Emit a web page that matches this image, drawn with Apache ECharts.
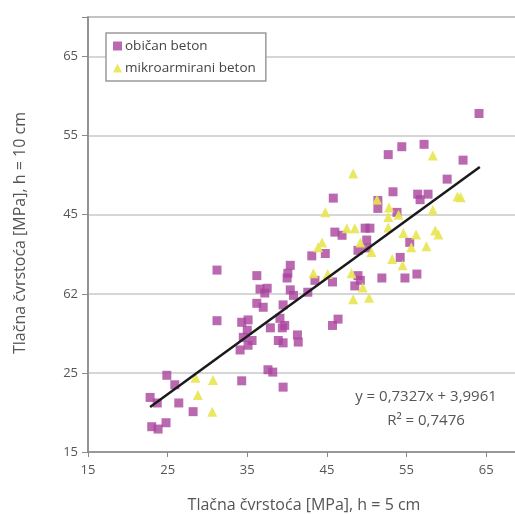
<!DOCTYPE html>
<html>
<head>
<meta charset="utf-8">
<script src="https://cdn.jsdelivr.net/npm/echarts@6/dist/echarts.min.js"></script>
<style>html,body{margin:0;padding:0;background:#fff}#c{width:515px;height:514px}</style>
</head>
<body>
<div id="c"></div>
<script>
// ---- data ----
const seriesNames = ['običan beton', 'mikroarmirani beton'];
const obicanBeton = [
  [22.8,21.9],[23.7,21.2],[23.0,18.2],[23.8,17.9],[24.8,18.7],[24.9,24.7],[25.9,23.5],[26.4,21.2],[28.2,20.1],
  [31.2,38.0],[31.2,31.6],[34.3,24.0],[34.1,27.9],[35.1,28.5],[34.3,31.4],[35.1,31.7],[35.0,30.4],[34.5,29.5],[35.6,29.1],
  [36.2,37.3],[36.6,35.6],[37.2,35.1],[36.2,33.8],[37.0,33.3],[37.5,35.7],[37.6,25.4],[38.2,25.1],[39.5,23.2],
  [37.9,30.7],[39.4,30.7],[39.7,31.0],[39.1,31.9],[39.5,33.6],[38.9,29.1],[39.5,28.8],[41.3,29.8],[41.4,28.9],
  [40.4,38.6],[40.1,37.6],[40.0,37.0],[40.4,35.5],[40.8,34.8],[42.6,35.2],[43.5,36.7],[43.1,39.8],[44.8,40.1],
  [45.7,36.5],[45.7,31.0],[46.4,31.8],[48.5,36.0],[48.9,37.3],[49.2,36.7],[51.9,37.0],[54.8,37.0],[56.3,37.5],
  [45.8,47.1],[46.0,42.8],[46.9,42.4],[49.8,43.3],[50.4,43.3],[50.0,41.8],[48.9,40.5],[50.0,40.8],
  [51.4,46.8],[51.4,45.8],[53.8,45.3],[55.4,41.5],[54.2,39.6],[52.7,52.6],[54.4,53.6],[57.2,53.9],
  [62.1,51.9],[64.1,57.8],[60.1,49.5],[53.3,47.9],[56.4,47.6],[57.7,47.6],[56.7,46.9]
];
const mikroarmiraniBeton = [
  [28.5,24.4],[30.7,24.1],[28.8,22.2],[30.6,20.1],[43.3,37.6],[45.1,37.5],[48.1,37.6],[49.5,35.8],[48.3,34.3],
  [50.3,34.5],[53.2,39.4],[54.5,38.6],[48.3,50.2],[44.8,45.3],[44.4,41.5],[43.9,40.9],[47.5,43.3],[48.5,43.3],
  [49.2,41.5],[50.6,40.3],[51.3,46.9],[52.8,45.9],[52.7,44.7],[52.7,43.4],[54.0,45.0],[58.3,52.5],[61.4,47.3],
  [61.8,47.2],[58.3,45.6],[58.6,43.0],[59.0,42.5],[54.6,42.7],[56.2,42.5],[55.6,40.9],[57.5,41.0]
];
const trendSlope = 0.7327;
const trendIntercept = 3.9961;
const trendXRange = [22.8, 64.2];
const xTickValues = [15, 25, 35, 45, 55, 65];
const xTickLabels = ['15', '25', '35', '45', '55', '65'];
const yTickValues = [15, 25, 35, 45, 55, 65];
const yTickLabels = ['15', '25', '62', '45', '55', '65'];
const xTitle = 'Tlačna čvrstoća [MPa], h = 5 cm';
const yTitle = 'Tlačna čvrstoća [MPa], h = 10 cm';
const eqLine1 = 'y = 0,7327x + 3,9961';
const eqLine2 = 'R² = 0,7476';

const trendData = trendXRange.map(x => [x, trendSlope * x + trendIntercept]);
function lbl(vals, labels) {
  return v => { const i = vals.indexOf(Math.round(v * 1000) / 1000); return i >= 0 ? labels[i] : ''; };
}
const FONT = '"Open Sans", "Noto Sans", sans-serif';

const chart = echarts.init(document.getElementById('c'), null, {renderer: 'canvas'});
chart.setOption({
  animation: false,
  backgroundColor: '#fff',
  textStyle: {fontFamily: FONT},
  grid: {left: 88, top: 17, width: 438, height: 435, containLabel: false, outerBoundsMode: 'none',
         show: true, borderColor: '#9a9a9a', borderWidth: 1.5, backgroundColor: 'transparent'},
  legend: {
    orient: 'vertical', left: 106, top: 33, padding: [6, 10, 6, 7], itemGap: 8,
    itemWidth: 9, itemHeight: 9, borderColor: '#9a9a9a', borderWidth: 1.5, backgroundColor: '#fff',
    textStyle: {fontSize: 13.5, color: '#444', fontFamily: FONT, padding: [0, 0, 0, -2]},
    data: [{name: seriesNames[0], icon: 'rect'}, {name: seriesNames[1], icon: 'triangle'}]
  },
  xAxis: {
    type: 'value', min: 15, max: 70, interval: 10,
    axisLine: {show: true, lineStyle: {color: '#8a8a8a', width: 1.5}},
    axisTick: {show: true, length: 5, lineStyle: {color: '#8a8a8a'}},
    axisLabel: {fontSize: 13, color: '#555', margin: 12, formatter: lbl(xTickValues, xTickLabels)},
    splitLine: {show: false}
  },
  yAxis: {
    type: 'value', min: 15, max: 70, interval: 10,
    axisLine: {show: true, lineStyle: {color: '#8a8a8a', width: 1.5}},
    axisTick: {show: true, length: 6, lineStyle: {color: '#8a8a8a'}},
    axisLabel: {fontSize: 13, color: '#555', margin: 10, formatter: lbl(yTickValues, yTickLabels)},
    splitLine: {show: true, lineStyle: {color: '#c8c8c8', width: 1.5}}
  },
  graphic: [
    {type: 'text', x: 304, y: 505, style: {text: xTitle, font: '16px ' + FONT, fill: '#555', align: 'center', verticalAlign: 'middle'}},
    {type: 'text', x: 20, y: 233, rotation: Math.PI / 2, style: {text: yTitle, font: '16px ' + FONT, fill: '#555', align: 'center', verticalAlign: 'middle'}},
    {type: 'text', x: 426, y: 397, style: {text: eqLine1, font: '15px ' + FONT, fill: '#555', align: 'center', verticalAlign: 'middle'}},
    {type: 'text', x: 426, y: 421, style: {text: eqLine2, font: '15px ' + FONT, fill: '#555', align: 'center', verticalAlign: 'middle'}}
  ],
  series: [
    {name: seriesNames[0], type: 'scatter', symbol: 'rect', symbolSize: 9, data: obicanBeton,
     itemStyle: {color: '#a9449e'}, z: 2},
    {name: seriesNames[1], type: 'scatter', symbol: 'triangle', symbolSize: 10, data: mikroarmiraniBeton,
     itemStyle: {color: '#e8e650', opacity: 0.9}, z: 3},
    {name: 'trend', type: 'line', data: trendData, symbol: 'none', lineStyle: {color: '#1a1a1a', width: 2.5}, z: 4}
  ]
});
</script>
</body>
</html>
